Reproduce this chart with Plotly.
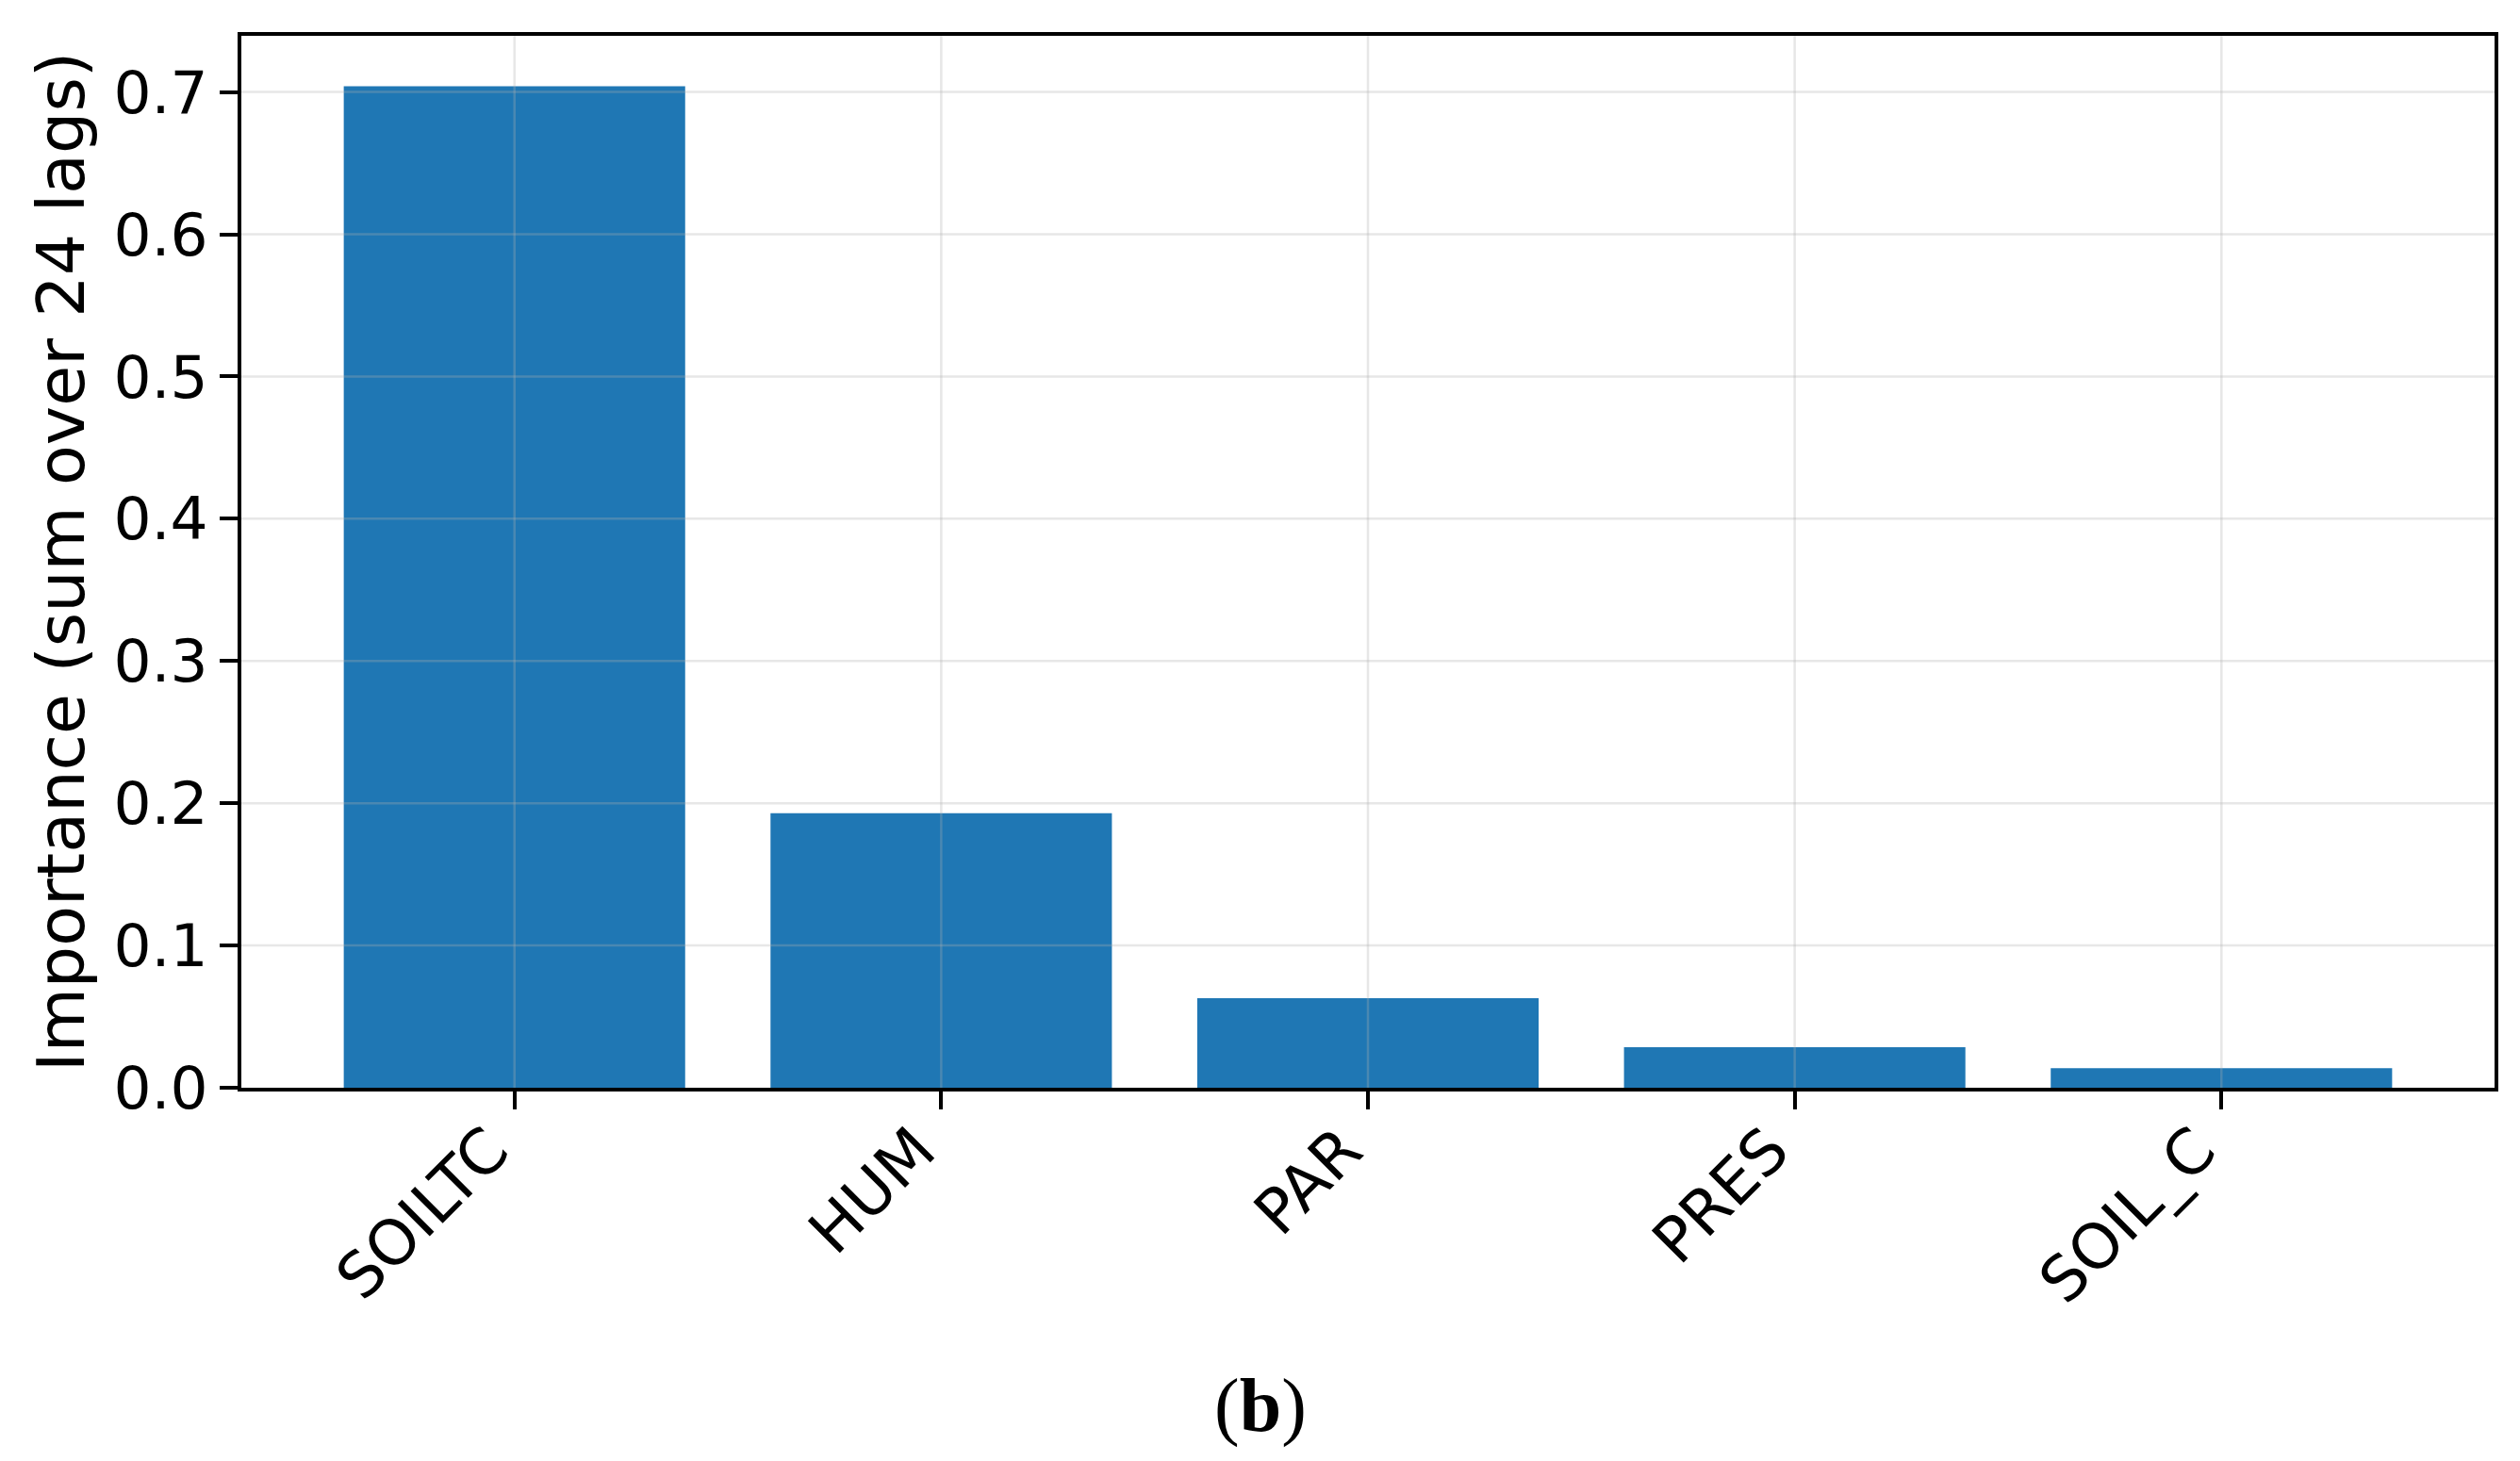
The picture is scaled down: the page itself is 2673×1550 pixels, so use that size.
import plotly.graph_objects as go

# data
features = ['SOILTC', 'HUM', 'PAR', 'PRES', 'SOIL_C']
importance = [0.704, 0.193, 0.063, 0.0285, 0.0137]
y_ticks = [0.0, 0.1, 0.2, 0.3, 0.4, 0.5, 0.6, 0.7]

BAR = '#1f77b4'
GRIDC = 'rgba(176,176,176,0.3)'
FONT = 'DejaVu Sans'

# page has an 8px body margin, so the figure starts at (8, 8)
OFF = 8
W, H = 2657, 1534
PL, PR, PT, PB = 256, 2646, 37.5, 1154   # plot box in page pixels
L, R = PL - OFF, OFF + W - PR
T, B = PT - OFF, OFF + H - PB
PW, PH = PR - PL, PB - PT

fig = go.Figure()
fig.add_trace(go.Bar(x=features, y=importance, marker=dict(color=BAR, line=dict(width=0)), width=0.8))

# grid drawn over the bars, like matplotlib's ax.grid(alpha=0.3)
for v in y_ticks[1:]:
    fig.add_shape(type='line', xref='paper', yref='y', x0=0, x1=1, y0=v, y1=v,
                  line=dict(color=GRIDC, width=2.5), layer='above')
for f in features:
    fig.add_shape(type='line', xref='x', yref='paper', x0=f, x1=f, y0=0, y1=1,
                  line=dict(color=GRIDC, width=2.5), layer='above')

fig.add_annotation(text='Importance (sum over 24 lags)', textangle=-90,
                   xref='paper', yref='paper', x=(65 - PL) / PW, y=0.5,
                   xanchor='center', yanchor='middle', showarrow=False,
                   font=dict(family=FONT, size=70, color='black'))
fig.add_annotation(text='(<b>b</b>)', xref='paper', yref='paper',
                   x=(1337 - PL) / PW, y=(PB - 1492) / PH,
                   xanchor='center', yanchor='middle', showarrow=False,
                   font=dict(family='Liberation Serif', size=80, color='black'))

fig.update_layout(
    width=W, height=H,
    margin=dict(l=L, r=R, t=T, b=B, autoexpand=False),
    paper_bgcolor='white', plot_bgcolor='white',
    showlegend=False,
    font=dict(family=FONT, color='black'),
    xaxis=dict(range=[-0.64, 4.64], showgrid=False, tickangle=-45,
               tickfont=dict(size=66), ticks='outside', ticklen=19, tickwidth=3.5,
               ticklabelstandoff=-22, ticklabelshift=-26,
               tickcolor='black', showline=True, linecolor='black', linewidth=3.5, mirror=True,
               layer='above traces'),
    yaxis=dict(range=[0, 0.7395], tickvals=y_ticks, tickformat='.1f', showgrid=False,
               zeroline=False, tickfont=dict(size=63), ticks='outside', ticklen=19, tickwidth=3.5,
               tickcolor='black', showline=True, linecolor='black', linewidth=3.5, mirror=True,
               layer='above traces'),
)

fig.write_html('out.html')
